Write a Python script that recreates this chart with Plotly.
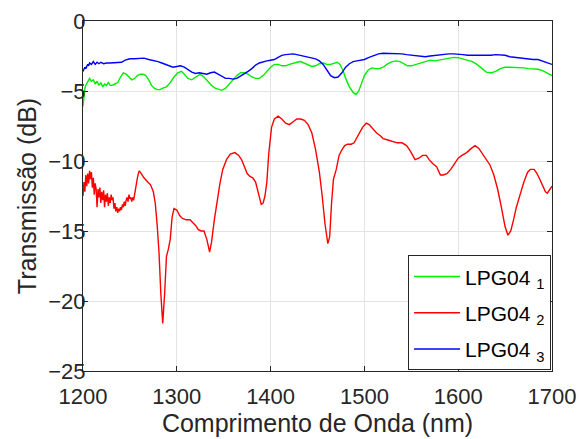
import plotly.graph_objects as go

# ---------------- data ----------------
g_x = [1200,1201,1202,1203,1205,1207,1209,1211,1213,1215,1217,1219,1221,1223,1225,1227,1229,1231,1234,1237,1240,1243,1246,1249,1252,1255,1258,1261,1264,1267,1270,1273,1276,1279,1282,1285,1289,1293,1297,1301,1305,1308,1312,1316,1320,1325,1329,1333,1337,1341,1345,1348,1352,1356,1360,1364,1368,1372,1376,1380,1384,1388,1392,1396,1400,1404,1408,1412,1416,1420,1424,1428,1432,1436,1440,1444,1448,1452,1456,1460,1464,1468,1471,1474,1477,1480,1484,1488,1491,1494,1497,1500,1504,1508,1512,1516,1520,1525,1530,1534,1538,1542,1546,1550,1555,1560,1565,1570,1575,1580,1585,1590,1595,1600,1605,1610,1615,1620,1625,1630,1635,1640,1645,1650,1655,1660,1665,1670,1675,1680,1685,1690,1695,1700]
g_y = [-6.1,-5.3,-4.8,-4.6,-4.3,-4.1,-4.3,-4.2,-4.5,-4.3,-4.6,-4.4,-4.7,-4.5,-4.6,-4.4,-4.6,-4.6,-4.5,-4.4,-4.0,-3.7,-3.8,-4.0,-4.2,-4.1,-3.9,-3.8,-3.8,-3.9,-4.2,-4.6,-4.8,-4.9,-4.9,-4.8,-4.7,-4.4,-4.0,-3.7,-3.6,-3.8,-4.1,-4.2,-4.0,-3.8,-4.0,-4.3,-4.6,-4.8,-4.9,-4.95,-4.8,-4.5,-4.2,-3.9,-3.7,-3.7,-3.8,-4.0,-4.1,-4.1,-3.9,-3.6,-3.3,-3.1,-3.1,-3.2,-3.2,-3.1,-3.0,-2.95,-2.9,-3.0,-3.1,-3.25,-3.2,-3.05,-3.0,-3.1,-3.1,-3.0,-2.95,-3.1,-3.5,-4.1,-4.7,-5.1,-5.25,-5.0,-4.4,-3.9,-3.5,-3.35,-3.4,-3.4,-3.3,-3.05,-2.9,-2.85,-2.9,-3.05,-3.2,-3.2,-3.1,-2.95,-2.85,-2.8,-2.85,-2.8,-2.75,-2.65,-2.6,-2.62,-2.7,-2.8,-2.9,-3.1,-3.4,-3.65,-3.7,-3.6,-3.4,-3.3,-3.3,-3.3,-3.35,-3.35,-3.4,-3.4,-3.45,-3.55,-3.7,-3.9]

r_x = [1200,1201,1202,1203,1204,1205,1206,1207,1208,1209,1210,1211,1212,1213,1214,1215,1216,1217,1218,1219,1220,1221,1222,1223,1224,1225,1226,1227,1228,1229,1230,1231,1232,1233,1234,1235,1236,1237,1238,1239,1240,1241,1242,1243,1244,1245,1246,1247,1248,1249,1250,1251,1252,1253,1254,1255,1256,1257,1258,1259,1260,1261,1262,1265,1269,1272,1275,1277,1279,1281,1283,1285,1287,1289,1291,1293,1295,1297,1300,1303,1306,1310,1314,1317,1320,1323,1326,1329,1332,1335,1337,1340,1343,1346,1349,1353,1357,1362,1366,1369,1372,1375,1378,1381,1384,1387,1390,1392,1394,1396,1398,1401,1404,1408,1412,1416,1420,1424,1428,1432,1436,1440,1444,1448,1452,1455,1458,1461,1463,1465,1467,1470,1473,1476,1479,1482,1486,1489,1492,1495,1498,1502,1505,1509,1513,1517,1520,1525,1530,1535,1540,1545,1549,1554,1558,1562,1566,1569,1573,1577,1581,1584,1588,1592,1596,1600,1604,1609,1614,1618,1622,1626,1630,1634,1638,1642,1646,1650,1653,1656,1659,1662,1666,1670,1674,1677,1681,1684,1687,1690,1693,1695,1697,1700]
r_y = [-12.5,-11.5,-12.2,-11.0,-11.8,-10.9,-11.6,-10.7,-11.3,-10.8,-11.9,-11.2,-12.4,-11.6,-12.0,-13.3,-12.0,-12.6,-11.9,-13.0,-12.2,-12.8,-12.1,-13.3,-12.4,-12.9,-12.3,-13.2,-12.6,-13.0,-12.4,-12.8,-12.6,-13.4,-13.0,-13.6,-13.3,-13.7,-13.4,-13.6,-13.3,-13.5,-13.1,-13.3,-12.9,-13.2,-12.8,-12.6,-12.9,-12.4,-12.7,-12.6,-12.9,-12.6,-12.8,-12.3,-12.0,-11.6,-11.2,-10.9,-10.7,-10.8,-10.9,-11.2,-11.5,-11.7,-12.2,-13.0,-14.5,-16.5,-19.5,-21.6,-19.5,-16.8,-16.3,-15.6,-14.0,-13.4,-13.5,-13.9,-14.1,-14.2,-14.2,-14.4,-14.6,-14.9,-15.0,-15.0,-15.6,-16.5,-15.8,-14.2,-12.8,-11.6,-10.6,-9.9,-9.5,-9.4,-9.6,-9.9,-10.4,-10.9,-11.1,-11.2,-11.5,-12.3,-13.1,-13.0,-12.5,-11.5,-9.5,-7.6,-7.0,-6.8,-7.0,-7.3,-7.4,-7.2,-7.0,-7.0,-7.1,-7.4,-8.0,-9.2,-10.8,-12.5,-14.5,-15.9,-15.4,-13.0,-11.3,-10.6,-9.6,-9.2,-8.9,-8.8,-8.8,-8.7,-8.3,-7.9,-7.6,-7.3,-7.4,-7.7,-8.0,-8.2,-8.4,-8.5,-8.6,-8.7,-8.7,-8.9,-9.3,-9.9,-9.8,-9.6,-9.6,-9.9,-10.2,-10.4,-11.0,-11.0,-10.9,-10.6,-10.2,-9.8,-9.6,-9.4,-9.1,-8.9,-9.1,-9.5,-9.9,-10.3,-11.0,-12.0,-13.3,-14.7,-15.3,-15.0,-14.2,-13.3,-12.4,-11.5,-10.8,-10.6,-10.6,-10.9,-11.3,-11.8,-12.2,-12.3,-12.1,-11.8]

b_x = [1200,1201,1202,1203,1204,1205,1206,1207,1209,1211,1213,1215,1217,1219,1222,1225,1229,1233,1237,1241,1245,1250,1255,1260,1265,1270,1275,1280,1284,1288,1292,1296,1300,1304,1308,1312,1316,1320,1324,1328,1332,1336,1340,1344,1348,1352,1356,1360,1364,1368,1372,1376,1380,1384,1388,1392,1396,1400,1404,1408,1412,1416,1420,1424,1428,1432,1436,1440,1444,1448,1452,1456,1460,1464,1468,1472,1476,1480,1484,1488,1492,1496,1500,1505,1510,1515,1520,1525,1530,1535,1540,1545,1550,1555,1560,1565,1570,1575,1580,1585,1590,1595,1600,1605,1610,1615,1620,1625,1630,1635,1640,1645,1650,1655,1660,1665,1670,1675,1680,1685,1690,1695,1700]
b_y = [-3.6,-3.4,-3.3,-3.4,-3.2,-3.1,-3.2,-3.0,-3.1,-2.9,-3.1,-2.95,-3.05,-2.95,-3.05,-3.0,-3.0,-3.0,-3.0,-2.95,-2.8,-2.7,-2.7,-2.7,-2.65,-2.75,-2.8,-2.9,-3.0,-3.1,-3.2,-3.3,-3.25,-3.2,-3.3,-3.5,-3.65,-3.75,-3.7,-3.75,-3.8,-3.7,-3.65,-3.8,-3.95,-4.1,-4.1,-4.15,-4.1,-3.95,-3.8,-3.6,-3.4,-3.15,-3.0,-2.9,-2.85,-2.8,-2.75,-2.6,-2.45,-2.4,-2.35,-2.35,-2.4,-2.45,-2.5,-2.55,-2.6,-2.7,-2.85,-3.1,-3.5,-3.9,-4.05,-4.0,-3.7,-3.3,-3.05,-2.9,-2.85,-2.8,-2.75,-2.6,-2.45,-2.35,-2.3,-2.3,-2.3,-2.3,-2.35,-2.4,-2.45,-2.5,-2.55,-2.55,-2.5,-2.45,-2.4,-2.4,-2.35,-2.35,-2.35,-2.4,-2.45,-2.45,-2.45,-2.45,-2.5,-2.45,-2.4,-2.4,-2.45,-2.55,-2.6,-2.6,-2.65,-2.7,-2.75,-2.75,-2.85,-2.95,-3.1]

names = ["LPG04 <sub>1</sub>", "LPG04 <sub>2</sub>", "LPG04 <sub>3</sub>"]
colors = ["#00ee00", "#ff0000", "#0000ff"]
x_ticks = [1200, 1300, 1400, 1500, 1600, 1700]
y_ticks = [-25, -20, -15, -10, -5, 0]

FONT = "Liberation Sans, Arial, sans-serif"

fig = go.Figure()
for i, (xs, ys, nm, c) in enumerate([(g_x, g_y, names[0], colors[0]),
                                      (r_x, r_y, names[1], colors[1]),
                                      (b_x, b_y, names[2], colors[2])]):
    fig.add_trace(go.Scatter(x=xs, y=ys, mode="lines", name=nm, legendgroup=f"g{i}",
                             line=dict(color=c, width=1.4)))

axis_common = dict(showline=True, linecolor="#262626", linewidth=1, mirror="ticks",
                   ticks="inside", ticklen=5, tickcolor="#262626", automargin=False,
                   showgrid=True, gridcolor="#e3e3e3", gridwidth=1, zeroline=False,
                   tickfont=dict(family=FONT, size=22, color="#262626"))

fig.update_layout(
    width=579, height=439,
    margin=dict(l=83, r=27, t=21, b=68),
    paper_bgcolor="white", plot_bgcolor="white",
    font=dict(family=FONT, color="#262626"),
    showlegend=True,
    legend=dict(x=0.998, y=0.002, xanchor="right", yanchor="bottom",
                bgcolor="white", bordercolor="#262626", borderwidth=1, itemwidth=46,
                font=dict(family=FONT, size=21, color="#000000"), tracegroupgap=6),
    xaxis=dict(range=[1200, 1700], tickvals=x_ticks, ticklabelstandoff=6,
               title=dict(text="Comprimento de Onda (nm)", font=dict(family=FONT, size=25, color="#262626"), standoff=6),
               **axis_common),
    yaxis=dict(range=[-25, 0], tickvals=y_ticks, ticklabelstandoff=-8,
               title=dict(text="Transmissão (dB)", font=dict(family=FONT, size=25, color="#262626"), standoff=4),
               **axis_common),
)

fig.write_html("out.html")
